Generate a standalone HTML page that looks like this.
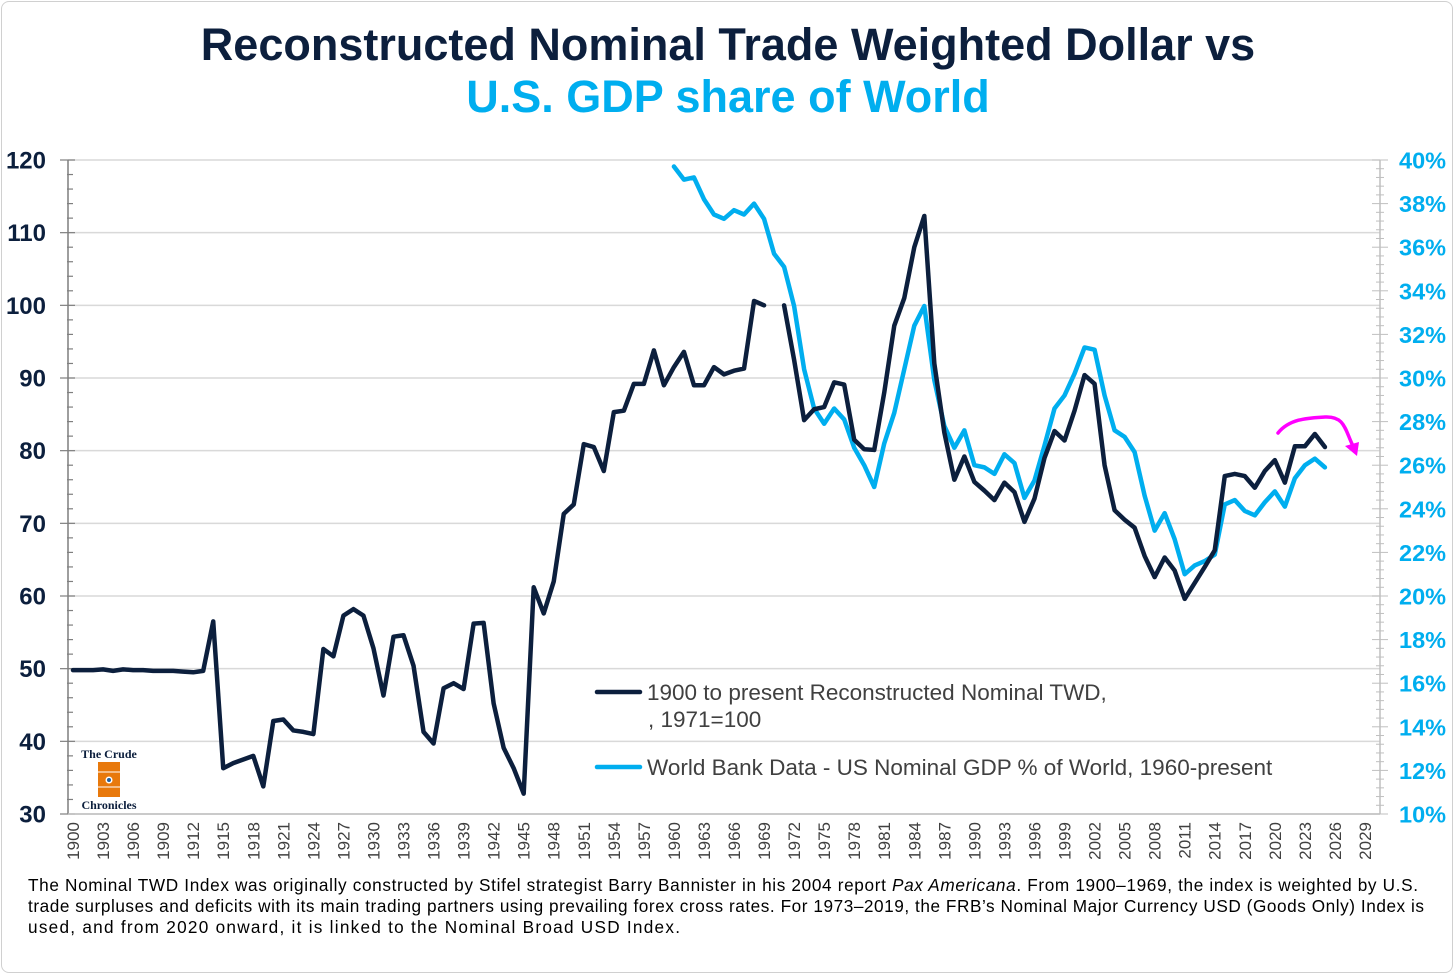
<!DOCTYPE html>
<html><head><meta charset="utf-8">
<style>
html,body{margin:0;padding:0;background:#fff;}
body{width:1456px;height:976px;overflow:hidden;position:relative;font-family:"Liberation Sans",Arial,sans-serif;}
#frame{position:absolute;left:1px;top:1px;width:1452px;height:972px;border:1px solid #d0d0d0;border-radius:8px;box-sizing:border-box;}
.title{position:absolute;left:0;width:1456px;text-align:center;font-weight:bold;font-size:45px;}
#t1{top:19px;color:#0c1f3d;}
#t2{top:71px;color:#00aeef;}
</style></head>
<body>
<div id="frame"></div>
<div class="title" id="t1">Reconstructed Nominal Trade Weighted Dollar vs</div>
<div class="title" id="t2">U.S. GDP share of World</div>
<svg id="chart" width="1456" height="976" style="position:absolute;left:0;top:0">
<g font-family="Liberation Sans, sans-serif" font-size="17.2" fill="#000">
<text x="28" y="891" textLength="1390" lengthAdjust="spacing">The Nominal TWD Index was originally constructed by Stifel strategist Barry Bannister in his 2004 report <tspan font-style="italic">Pax Americana</tspan>. From 1900–1969, the index is weighted by U.S.</text>
<text x="28" y="912" textLength="1396" lengthAdjust="spacing">trade surpluses and deficits with its main trading partners using prevailing  forex cross rates. For 1973–2019, the FRB’s Nominal Major Currency USD (Goods Only) Index is</text>
<text x="28" y="933" textLength="652" lengthAdjust="spacing">used, and from 2020 onward, it is linked to the Nominal Broad USD Index.</text>
</g>
</svg>
<script>
const twdStartYear = 1900;
const twdValues = [49.8,49.8,49.8,49.9,49.7,49.9,49.8,49.8,49.7,49.7,49.7,49.6,49.5,49.7,56.5,36.3,37,37.5,38,33.8,42.8,43,41.5,41.3,41,52.7,51.7,57.3,58.2,57.3,52.8,46.3,54.4,54.6,50.4,41.3,39.7,47.3,48,47.2,56.2,56.3,45.2,39.1,36.3,32.8,61.2,57.6,62,71.3,72.6,80.9,80.5,77.2,85.3,85.5,89.2,89.2,93.8,89,91.5,93.6,89,89,91.5,90.5,91,91.3,100.6,100,null,100,92.5,84.2,85.7,86,89.4,89.1,81.5,80.2,80.1,88,97.2,101,108,112.3,92,82.5,76,79.2,75.7,74.5,73.2,75.6,74.3,70.2,73.4,79,82.7,81.4,85.5,90.4,89.2,78,71.8,70.5,69.4,65.5,62.6,65.3,63.5,59.6,61.8,64,66.3,76.5,76.8,76.5,74.9,77.2,78.7,75.6,80.6,80.6,82.3,80.5];
const gdpStartYear = 1960;
const gdpValues = [39.7,39.1,39.2,38.2,37.5,37.3,37.7,37.5,38.0,37.3,35.7,35.1,33.3,30.4,28.6,27.9,28.6,28.1,26.8,26.0,25.0,27.0,28.4,30.4,32.4,33.3,29.9,27.8,26.8,27.6,26.0,25.9,25.6,26.5,26.1,24.5,25.3,26.9,28.6,29.2,30.2,31.4,31.3,29.2,27.6,27.3,26.6,24.6,23.0,23.8,22.6,21.0,21.4,21.6,21.9,24.2,24.4,23.9,23.7,24.3,24.8,24.1,25.4,26.0,26.3,25.9];
const leftTicks = [30,40,50,60,70,80,90,100,110,120];
const rightTicks = [10,12,14,16,18,20,22,24,26,28,30,32,34,36,38,40];
const xFirstYear = 1900, xLastYear = 2030;

const NS='http://www.w3.org/2000/svg';
const svg=document.getElementById('chart');
const L=68,R=1380,T=160,B=814;
const yL=v=>B-(v-30)/(120-30)*(B-T);
const yR=p=>B-(p-10)/(40-10)*(B-T);
const nCat=xFirstYear<=xLastYear?(xLastYear-xFirstYear+1):1;
const cw=(R-L)/nCat;
const xY=yr=>L+(yr-xFirstYear+0.5)*cw;
function mk(tag,attrs){const e=document.createElementNS(NS,tag);for(const k in attrs)e.setAttribute(k,attrs[k]);svg.appendChild(e);return e;}

leftTicks.forEach(v=>{
  const g=mk('line',{x1:L,x2:R,y1:yL(v),y2:yL(v),stroke:'#d9d9d9','stroke-width':1.5});
  
  
  const t=mk('text',{x:46,y:yL(v)+8.5,'text-anchor':'end','font-size':24,'font-weight':'bold',fill:'#0c1f3d','font-family':'Liberation Sans, sans-serif'});
  t.textContent=v;
  
  
});
let a=mk('line',{x1:L,x2:L,y1:T,y2:B,stroke:'#7f7f7f','stroke-width':1.5});


for(let v=30;v<=120;v+=2){
  const major=(v%10===0);
  mk('line',{x1:major?L-8:L-1,x2:major?L+7:L+5,y1:yL(v),y2:yL(v),stroke:'#7f7f7f','stroke-width':1.2});
}
a=mk('line',{x1:R,x2:R,y1:T,y2:B,stroke:'#bfbfbf','stroke-width':1.5});


for(let p=10;p<=40.001;p+=0.4){
  const major=Math.abs(p/2-Math.round(p/2))<0.01;
  mk('line',{x1:major?R-8:R-4,x2:major?R+8:R+4,y1:yR(p),y2:yR(p),stroke:'#bfbfbf','stroke-width':1});
}
rightTicks.forEach(p=>{
  const t=mk('text',{x:1399,y:yR(p)+8.5,'font-size':23.5,'font-weight':'bold',fill:'#00aeef','font-family':'Liberation Sans, sans-serif'});
  t.textContent=p+'%';
  
  
});
a=mk('line',{x1:L,x2:R,y1:B,y2:B,stroke:'#bfbfbf','stroke-width':1.5});


for(let yr=xFirstYear;yr<=xLastYear;yr+=3){
  const x=xY(yr);
  const t=mk('text',{x:0,y:0,transform:`translate(${x+6},${B+8}) rotate(-90)`,'text-anchor':'end','font-size':17,fill:'#404040','font-family':'Liberation Sans, sans-serif'});
  t.textContent=yr;
  
  
}
function segs(vals,start,yf){
  const out=[];let cur=[];
  vals.forEach((v,i)=>{if(v==null){if(cur.length)out.push(cur);cur=[];}else cur.push([xY(start+i),yf(v)]);});
  if(cur.length)out.push(cur);return out;
}
segs(gdpValues,gdpStartYear,yR).forEach(s=>{
  const p=mk('polyline',{points:s.map(q=>q.join(',')).join(' '),fill:'none',stroke:'#00aeef','stroke-width':4.5,'stroke-linejoin':'round','stroke-linecap':'round'});
  
  
});
segs(twdValues,twdStartYear,yL).forEach(s=>{
  const p=mk('polyline',{points:s.map(q=>q.join(',')).join(' '),fill:'none',stroke:'#0c1f3d','stroke-width':4.5,'stroke-linejoin':'round','stroke-linecap':'round'});
  
  
});
let m=mk('path',{d:'M1278,433 C1290,418 1310,418 1325,417 C1345,416 1345,430 1353,446',fill:'none',stroke:'#ff00ff','stroke-width':3.5,'stroke-linecap':'round'});


m=mk('polygon',{points:'1345,446 1359,442 1357,456',fill:'#ff00ff'});


function leg(y,color,lines,name){
  const g=mk('g',{});
  
  
  const l=document.createElementNS(NS,'line');
  [['x1',597],['x2',640],['y1',y],['y2',y],['stroke',color],['stroke-width',4.5],['stroke-linecap','round']].forEach(k=>l.setAttribute(k[0],k[1]));
  g.appendChild(l);
  lines.forEach((s,i)=>{
    const t=document.createElementNS(NS,'text');
    t.setAttribute('x',i?648:647);t.setAttribute('y',y+8+i*27);
    t.setAttribute('font-size',22.5);t.setAttribute('fill','#404040');
    t.setAttribute('font-family','Liberation Sans, sans-serif');
    t.textContent=s;g.appendChild(t);
  });
}
leg(692,'#0c1f3d',['1900 to present Reconstructed Nominal TWD,',', 1971=100'],'legend-entry-twd');
leg(767,'#00aeef',['World Bank Data - US Nominal GDP % of World, 1960-present'],'legend-entry-gdp');
const lg=mk('g',{});


lg.innerHTML='<text x="109" y="758" text-anchor="middle" font-size="12" font-weight="bold" fill="#0c1f3d" font-family="Liberation Serif, serif">The Crude</text>'+
'<rect x="98" y="762" width="22" height="35" fill="#e8790c"/>'+
'<line x1="98" y1="772" x2="120" y2="772" stroke="#fff" stroke-width="1"/>'+
'<line x1="98" y1="787" x2="120" y2="787" stroke="#fff" stroke-width="1"/>'+
'<circle cx="109" cy="780" r="3.5" fill="#fff"/><circle cx="109" cy="780" r="2" fill="#1f5fa0"/>'+
'<text x="109" y="809" text-anchor="middle" font-size="12" font-weight="bold" fill="#0c1f3d" font-family="Liberation Serif, serif">Chronicles</text>';
</script>
</body></html>
